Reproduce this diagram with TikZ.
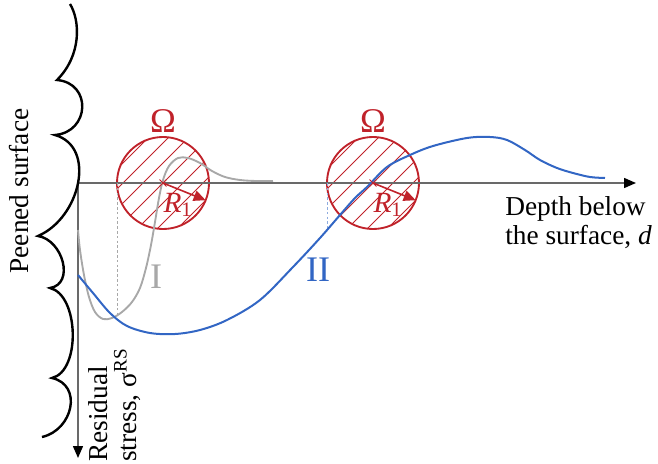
\documentclass[tikz,border=0pt]{standalone}
\usepackage{fontspec}
\setmainfont{Liberation Serif}
\usetikzlibrary{arrows.meta,shapes.misc}
\definecolor{zonered}{RGB}{192,34,42}
\definecolor{profileblue}{RGB}{50,102,196}
\definecolor{profilegray}{RGB}{168,168,168}
\definecolor{axisgray}{RGB}{105,105,105}
\newcommand\labelfont{\fontsize{20.5}{22}\selectfont}

\begin{document}
\begin{tikzpicture}[x=0.75pt, y=-0.75pt,
  axisline/.style={draw=axisgray, line width=1.1pt, -{Triangle[length=9pt, width=7.5pt, color=black]}},
  surfaceline/.style={draw=black, line width=1.8pt, line join=miter},
  profileI/.style={draw=profilegray, line width=1.4pt},
  profileII/.style={draw=profileblue, line width=1.5pt},
  zone/.style={circle, draw=zonered, line width=1.4pt, minimum size=69pt, inner sep=0pt, outer sep=0pt},
  hatchline/.style={draw=zonered, line width=0.6pt},
  centremark/.style={cross out, draw=zonered, line width=0.7pt, minimum size=4.5pt, inner sep=0pt},
  radiusarrow/.style={draw=zonered, line width=1.2pt, -{Triangle[length=9pt, width=8pt]}},
  zonelabel/.style={text=zonered, font=\fontsize{22}{24}\selectfont, inner sep=0pt},
  omegalabel/.style={text=zonered, font=\fontsize{26}{28}\selectfont, inner sep=0pt},
  txt/.style={font=\labelfont, inner sep=0pt},
  curvelabel/.style={font=\fontsize{27}{28}\selectfont, inner sep=0pt},
  guide/.style={dash pattern=on 2pt off 1.6pt, line width=0.6pt}
]
\useasboundingbox (0,0) rectangle (658,464);

% hatched zones of radius R_1
\foreach \cx/\nm in {163/A, 373/B} {
  \begin{scope}
    \clip (\cx,183) circle[radius=46];
    \foreach \k in {-5,...,5}
      \draw[hatchline] (\cx+\k*20-70,253) -- ++(140,-140);
  \end{scope}
  \node[zone] (zone\nm) at (\cx,183) {};
}

% axes
\coordinate (O) at (78,183);
\coordinate (dEnd) at (636,183);
\coordinate (sEnd) at (78,458);
\draw[axisline] (O) -- (dEnd);
\draw[axisline] (O) -- (sEnd);

% peened surface profile
\draw[surfaceline] (70,4) .. controls (80,20) and (82,55) .. (57,80)
  .. controls (92,83) and (90,132) .. (55,135)
  .. controls (97,147) and (80,218) .. (38,236)
  .. controls (63,240) and (75,284) .. (50,288)
  .. controls (79,295) and (81,371) .. (52,378)
  .. controls (83,385) and (73,430) .. (42,437);

% projection guides
\draw[guide, draw=profilegray] (zoneA.west) -- (117,317);
\draw[guide, draw=profileblue!55] (zoneB.west) -- (327,231);

% residual stress profiles
\draw[profileI] plot[smooth, tension=0.55] coordinates {(78,230) (80,250) (84,275) (89,297) (95,312) (103,319) (112,318) (122,312) (132,302) (140,288) (146,268) (151,245) (155,222) (159,198) (163,180) (169,166) (178,158) (188,158) (200,163) (212,171) (225,177) (240,180) (256,181) (273,181)};
\draw[profileII] plot[smooth, tension=0.55] coordinates {(78,275) (93,293) (110,313) (127,326) (150,333) (175,334) (200,330) (227,320) (260,300) (293,267) (320,238) (340,215) (355,198) (367,187) (387,167) (410,155) (433,146) (467,138) (490,137) (507,140) (525,150) (540,160) (557,168) (573,173) (590,177) (605,178)};

% zone centres, radii and labels
\foreach \cx/\nm in {163/A, 373/B} {
  \node[centremark] (mark\nm) at (zone\nm.center) {};
  \draw[radiusarrow] (zone\nm.center) -- (zone\nm.-22);
  \node[omegalabel, anchor=base] (omega\nm) at (\cx,132) {Ω};
  \node[zonelabel] (radius\nm) at (\cx+15,205) {\textit{R}\textsubscript{1}};
}

\node[curvelabel, text=profilegray] (labI) at (156,277) {I};
\node[curvelabel, text=profileblue] (labII) at (318,270) {II};

\node[txt, rotate=90] (peened) at (19,191) {Peened surface};
\node[txt, rotate=90, align=left, anchor=north west] (stress) at (88,462) {Residual\\stress, σ\textsuperscript{RS}};
\node[txt, align=left, anchor=north west] (depth) at (505,196) {Depth below\\the surface, \textit{d}};
\end{tikzpicture}
\end{document}
